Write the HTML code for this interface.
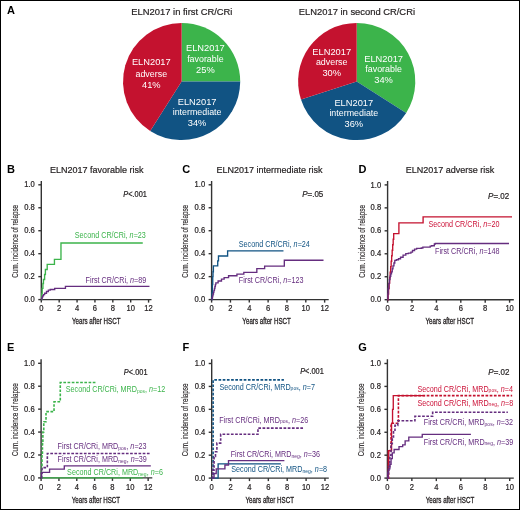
<!DOCTYPE html>
<html><head><meta charset="utf-8"><style>
html,body{margin:0;padding:0;background:#fff;}
svg{display:block;will-change:transform;}
text{font-family:"Liberation Sans",sans-serif;}
</style></head><body>
<svg width="520" height="510" viewBox="0 0 520 510">
<rect width="520" height="510" fill="#fff"/>
<path d="M181.6,81.5 L181.60,22.90 A58.6,58.6 0 0 1 240.20,81.50 Z" fill="#3cb44b"/>
<path d="M181.6,81.5 L240.20,81.50 A58.6,58.6 0 0 1 150.20,130.98 Z" fill="#115383"/>
<path d="M181.6,81.5 L150.20,130.98 A58.6,58.6 0 0 1 181.60,22.90 Z" fill="#c4122f"/>
<path d="M356.7,81.5 L356.70,22.90 A58.6,58.6 0 0 1 406.18,112.90 Z" fill="#3cb44b"/>
<path d="M356.7,81.5 L406.18,112.90 A58.6,58.6 0 0 1 300.97,99.61 Z" fill="#115383"/>
<path d="M356.7,81.5 L300.97,99.61 A58.6,58.6 0 0 1 356.70,22.90 Z" fill="#c4122f"/>
<text x="181.9" y="14.8" font-size="9.4" fill="#231f20" stroke="#231f20" stroke-width="0.2" text-anchor="middle">ELN2017 in first CR/CRi</text>
<text x="356.9" y="14.8" font-size="9.4" fill="#231f20" stroke="#231f20" stroke-width="0.2" text-anchor="middle">ELN2017 in second CR/CRi</text>
<text x="151.3" y="65.40" font-size="9.3" fill="#fff" text-anchor="middle">ELN2017</text>
<text x="151.3" y="76.60" font-size="8.9" fill="#fff" text-anchor="middle">adverse</text>
<text x="151.3" y="87.80" font-size="9.3" fill="#fff" text-anchor="middle">41%</text>
<text x="205.4" y="50.90" font-size="9.3" fill="#fff" text-anchor="middle">ELN2017</text>
<text x="205.4" y="61.80" font-size="8.9" fill="#fff" text-anchor="middle">favorable</text>
<text x="205.4" y="72.70" font-size="9.3" fill="#fff" text-anchor="middle">25%</text>
<text x="197.1" y="104.80" font-size="9.3" fill="#fff" text-anchor="middle">ELN2017</text>
<text x="197.1" y="115.40" font-size="8.9" fill="#fff" text-anchor="middle">intermediate</text>
<text x="197.1" y="126.00" font-size="9.3" fill="#fff" text-anchor="middle">34%</text>
<text x="331.7" y="54.80" font-size="9.3" fill="#fff" text-anchor="middle">ELN2017</text>
<text x="331.7" y="65.40" font-size="8.9" fill="#fff" text-anchor="middle">adverse</text>
<text x="331.7" y="76.00" font-size="9.3" fill="#fff" text-anchor="middle">30%</text>
<text x="383.6" y="61.50" font-size="9.3" fill="#fff" text-anchor="middle">ELN2017</text>
<text x="383.6" y="72.45" font-size="8.9" fill="#fff" text-anchor="middle">favorable</text>
<text x="383.6" y="83.40" font-size="9.3" fill="#fff" text-anchor="middle">34%</text>
<text x="353.8" y="105.50" font-size="9.3" fill="#fff" text-anchor="middle">ELN2017</text>
<text x="353.8" y="116.45" font-size="8.9" fill="#fff" text-anchor="middle">intermediate</text>
<text x="353.8" y="127.40" font-size="9.3" fill="#fff" text-anchor="middle">36%</text>
<text x="6.9" y="13.8" font-size="11" font-weight="bold" fill="#000">A</text>
<text x="7.1" y="172.5" font-size="11" font-weight="bold" fill="#000">B</text>
<text x="182.2" y="172.5" font-size="11" font-weight="bold" fill="#000">C</text>
<text x="358.5" y="172.5" font-size="11" font-weight="bold" fill="#000">D</text>
<text x="7.1" y="351" font-size="11" font-weight="bold" fill="#000">E</text>
<text x="182.5" y="350.7" font-size="11" font-weight="bold" fill="#000">F</text>
<text x="358.3" y="351" font-size="11" font-weight="bold" fill="#000">G</text>
<text x="50" y="173.00" font-size="9" fill="#231f20" stroke="#231f20" stroke-width="0.2">ELN2017 favorable risk</text>
<path d="M41.3,180.9 V299.6 H151.5" fill="none" stroke="#333" stroke-width="1.4"/>
<path d="M38.3,299.60 H41.3" stroke="#333" stroke-width="1.4"/>
<text transform="translate(34.80,302.20) scale(1,1.1)" font-size="7.6" fill="#231f20" stroke="#231f20" stroke-width="0.2" text-anchor="end">0.0</text>
<path d="M38.3,276.64 H41.3" stroke="#333" stroke-width="1.4"/>
<text transform="translate(34.80,279.24) scale(1,1.1)" font-size="7.6" fill="#231f20" stroke="#231f20" stroke-width="0.2" text-anchor="end">0.2</text>
<path d="M38.3,253.68 H41.3" stroke="#333" stroke-width="1.4"/>
<text transform="translate(34.80,256.28) scale(1,1.1)" font-size="7.6" fill="#231f20" stroke="#231f20" stroke-width="0.2" text-anchor="end">0.4</text>
<path d="M38.3,230.72 H41.3" stroke="#333" stroke-width="1.4"/>
<text transform="translate(34.80,233.32) scale(1,1.1)" font-size="7.6" fill="#231f20" stroke="#231f20" stroke-width="0.2" text-anchor="end">0.6</text>
<path d="M38.3,207.76 H41.3" stroke="#333" stroke-width="1.4"/>
<text transform="translate(34.80,210.36) scale(1,1.1)" font-size="7.6" fill="#231f20" stroke="#231f20" stroke-width="0.2" text-anchor="end">0.8</text>
<path d="M38.3,184.80 H41.3" stroke="#333" stroke-width="1.4"/>
<text transform="translate(34.80,187.40) scale(1,1.1)" font-size="7.6" fill="#231f20" stroke="#231f20" stroke-width="0.2" text-anchor="end">1.0</text>
<path d="M41.30,299.6 V302.6" stroke="#333" stroke-width="1.4"/>
<text transform="translate(41.30,311.30) scale(1,1.1)" font-size="7.6" fill="#231f20" stroke="#231f20" stroke-width="0.2" text-anchor="middle">0</text>
<path d="M59.18,299.6 V302.6" stroke="#333" stroke-width="1.4"/>
<text transform="translate(59.18,311.30) scale(1,1.1)" font-size="7.6" fill="#231f20" stroke="#231f20" stroke-width="0.2" text-anchor="middle">2</text>
<path d="M77.06,299.6 V302.6" stroke="#333" stroke-width="1.4"/>
<text transform="translate(77.06,311.30) scale(1,1.1)" font-size="7.6" fill="#231f20" stroke="#231f20" stroke-width="0.2" text-anchor="middle">4</text>
<path d="M94.94,299.6 V302.6" stroke="#333" stroke-width="1.4"/>
<text transform="translate(94.94,311.30) scale(1,1.1)" font-size="7.6" fill="#231f20" stroke="#231f20" stroke-width="0.2" text-anchor="middle">6</text>
<path d="M112.82,299.6 V302.6" stroke="#333" stroke-width="1.4"/>
<text transform="translate(112.82,311.30) scale(1,1.1)" font-size="7.6" fill="#231f20" stroke="#231f20" stroke-width="0.2" text-anchor="middle">8</text>
<path d="M130.70,299.6 V302.6" stroke="#333" stroke-width="1.4"/>
<text transform="translate(130.70,311.30) scale(1,1.1)" font-size="7.6" fill="#231f20" stroke="#231f20" stroke-width="0.2" text-anchor="middle">10</text>
<path d="M148.58,299.6 V302.6" stroke="#333" stroke-width="1.4"/>
<text transform="translate(148.58,311.30) scale(1,1.1)" font-size="7.6" fill="#231f20" stroke="#231f20" stroke-width="0.2" text-anchor="middle">12</text>
<text transform="translate(96.20,323.80) scale(0.75,1)" font-size="8.3" fill="#231f20" stroke="#231f20" stroke-width="0.3" text-anchor="middle">Years after HSCT</text>
<text transform="translate(18.00,241.30) rotate(-90) scale(0.76,1)" font-size="8.3" fill="#231f20" stroke="#231f20" stroke-width="0.12" text-anchor="middle">Cum. incidence of relapse</text>
<path d="M41.30,299.60 H41.30 V299.60 H41.75 V293.86 H42.19 V288.35 H42.91 V283.53 H43.45 V279.51 H44.61 V274.46 H45.41 V269.52 H47.20 V264.36 H54.44 V259.42 H60.97 V243.00 H142.77 V243.00" fill="none" stroke="#3cb44b" stroke-width="1.35"/>
<path d="M41.30,299.60 H41.75 V298.45 H42.10 V297.07 H42.64 V295.81 H43.45 V294.55 H44.61 V293.29 H46.49 V291.45 H48.36 V290.19 H50.24 V289.50 H54.71 V288.35 H65.44 V286.40 H149.47 V286.40" fill="none" stroke="#652d7f" stroke-width="1.35"/>
<text transform="translate(74.8,238) scale(1,1.14)" font-size="7.2" fill="#3cb44b" text-anchor="start">Second CR/CRi, <tspan font-style="italic">n</tspan>=23</text>
<text transform="translate(85.6,283.3) scale(1,1.14)" font-size="7.2" fill="#652d7f" text-anchor="start">First CR/CRi, <tspan font-style="italic">n</tspan>=89</text>
<text transform="translate(146.9,196.9) scale(1,1.14)" font-size="7.4" fill="#231f20" stroke="#231f20" stroke-width="0.2" text-anchor="end"><tspan font-style="italic">P</tspan>&lt;.001</text>
<text x="216.5" y="173.00" font-size="9" fill="#231f20" stroke="#231f20" stroke-width="0.2">ELN2017 intermediate risk</text>
<path d="M211.6,180.9 V299.6 H328.7" fill="none" stroke="#333" stroke-width="1.4"/>
<path d="M208.6,299.60 H211.6" stroke="#333" stroke-width="1.4"/>
<text transform="translate(205.10,302.20) scale(1,1.1)" font-size="7.6" fill="#231f20" stroke="#231f20" stroke-width="0.2" text-anchor="end">0.0</text>
<path d="M208.6,276.64 H211.6" stroke="#333" stroke-width="1.4"/>
<text transform="translate(205.10,279.24) scale(1,1.1)" font-size="7.6" fill="#231f20" stroke="#231f20" stroke-width="0.2" text-anchor="end">0.2</text>
<path d="M208.6,253.68 H211.6" stroke="#333" stroke-width="1.4"/>
<text transform="translate(205.10,256.28) scale(1,1.1)" font-size="7.6" fill="#231f20" stroke="#231f20" stroke-width="0.2" text-anchor="end">0.4</text>
<path d="M208.6,230.72 H211.6" stroke="#333" stroke-width="1.4"/>
<text transform="translate(205.10,233.32) scale(1,1.1)" font-size="7.6" fill="#231f20" stroke="#231f20" stroke-width="0.2" text-anchor="end">0.6</text>
<path d="M208.6,207.76 H211.6" stroke="#333" stroke-width="1.4"/>
<text transform="translate(205.10,210.36) scale(1,1.1)" font-size="7.6" fill="#231f20" stroke="#231f20" stroke-width="0.2" text-anchor="end">0.8</text>
<path d="M208.6,184.80 H211.6" stroke="#333" stroke-width="1.4"/>
<text transform="translate(205.10,187.40) scale(1,1.1)" font-size="7.6" fill="#231f20" stroke="#231f20" stroke-width="0.2" text-anchor="end">1.0</text>
<path d="M211.60,299.6 V302.6" stroke="#333" stroke-width="1.4"/>
<text transform="translate(211.60,311.30) scale(1,1.1)" font-size="7.6" fill="#231f20" stroke="#231f20" stroke-width="0.2" text-anchor="middle">0</text>
<path d="M230.44,299.6 V302.6" stroke="#333" stroke-width="1.4"/>
<text transform="translate(230.44,311.30) scale(1,1.1)" font-size="7.6" fill="#231f20" stroke="#231f20" stroke-width="0.2" text-anchor="middle">2</text>
<path d="M249.28,299.6 V302.6" stroke="#333" stroke-width="1.4"/>
<text transform="translate(249.28,311.30) scale(1,1.1)" font-size="7.6" fill="#231f20" stroke="#231f20" stroke-width="0.2" text-anchor="middle">4</text>
<path d="M268.12,299.6 V302.6" stroke="#333" stroke-width="1.4"/>
<text transform="translate(268.12,311.30) scale(1,1.1)" font-size="7.6" fill="#231f20" stroke="#231f20" stroke-width="0.2" text-anchor="middle">6</text>
<path d="M286.96,299.6 V302.6" stroke="#333" stroke-width="1.4"/>
<text transform="translate(286.96,311.30) scale(1,1.1)" font-size="7.6" fill="#231f20" stroke="#231f20" stroke-width="0.2" text-anchor="middle">8</text>
<path d="M305.80,299.6 V302.6" stroke="#333" stroke-width="1.4"/>
<text transform="translate(305.80,311.30) scale(1,1.1)" font-size="7.6" fill="#231f20" stroke="#231f20" stroke-width="0.2" text-anchor="middle">10</text>
<path d="M324.64,299.6 V302.6" stroke="#333" stroke-width="1.4"/>
<text transform="translate(324.64,311.30) scale(1,1.1)" font-size="7.6" fill="#231f20" stroke="#231f20" stroke-width="0.2" text-anchor="middle">12</text>
<text transform="translate(266.60,323.80) scale(0.75,1)" font-size="8.3" fill="#231f20" stroke="#231f20" stroke-width="0.3" text-anchor="middle">Years after HSCT</text>
<text transform="translate(188.30,241.30) rotate(-90) scale(0.76,1)" font-size="8.3" fill="#231f20" stroke="#231f20" stroke-width="0.12" text-anchor="middle">Cum. incidence of relapse</text>
<path d="M211.60,299.60 H211.98 V292.71 H212.35 V284.68 H212.73 V276.64 H213.01 V271.70 H213.39 V265.85 H217.72 V260.91 H218.48 V255.98 H227.61 V250.81 H283.47 V250.81" fill="none" stroke="#115383" stroke-width="1.35"/>
<path d="M211.60,299.60 H212.07 V297.76 H212.54 V295.93 H213.01 V293.97 H213.48 V292.14 H213.95 V290.30 H214.43 V288.46 H214.90 V286.51 H215.37 V284.68 H215.84 V282.84 H218.10 V281.00 H221.49 V279.05 H224.13 V277.67 H228.56 V275.72 H236.94 V274.11 H243.82 V272.39 H256.82 V268.60 H264.63 V266.08 H284.32 V260.22 H323.51 V260.22" fill="none" stroke="#652d7f" stroke-width="1.35"/>
<text transform="translate(238.8,246.8) scale(1,1.14)" font-size="7.2" fill="#115383" text-anchor="start">Second CR/CRi, <tspan font-style="italic">n</tspan>=24</text>
<text transform="translate(238.8,283.4) scale(1,1.14)" font-size="7.2" fill="#652d7f" text-anchor="start">First CR/CRi, <tspan font-style="italic">n</tspan>=123</text>
<text transform="translate(323.3,196.9) scale(1,1.14)" font-size="8.0" fill="#231f20" stroke="#231f20" stroke-width="0.2" text-anchor="end"><tspan font-style="italic">P</tspan>=.05</text>
<text x="405.8" y="173.10" font-size="9" fill="#231f20" stroke="#231f20" stroke-width="0.2">ELN2017 adverse risk</text>
<path d="M387.6,180.9 V299.7 H513.8" fill="none" stroke="#333" stroke-width="1.4"/>
<path d="M384.6,299.70 H387.6" stroke="#333" stroke-width="1.4"/>
<text transform="translate(381.10,302.30) scale(1,1.1)" font-size="7.6" fill="#231f20" stroke="#231f20" stroke-width="0.2" text-anchor="end">0.0</text>
<path d="M384.6,276.74 H387.6" stroke="#333" stroke-width="1.4"/>
<text transform="translate(381.10,279.34) scale(1,1.1)" font-size="7.6" fill="#231f20" stroke="#231f20" stroke-width="0.2" text-anchor="end">0.2</text>
<path d="M384.6,253.78 H387.6" stroke="#333" stroke-width="1.4"/>
<text transform="translate(381.10,256.38) scale(1,1.1)" font-size="7.6" fill="#231f20" stroke="#231f20" stroke-width="0.2" text-anchor="end">0.4</text>
<path d="M384.6,230.82 H387.6" stroke="#333" stroke-width="1.4"/>
<text transform="translate(381.10,233.42) scale(1,1.1)" font-size="7.6" fill="#231f20" stroke="#231f20" stroke-width="0.2" text-anchor="end">0.6</text>
<path d="M384.6,207.86 H387.6" stroke="#333" stroke-width="1.4"/>
<text transform="translate(381.10,210.46) scale(1,1.1)" font-size="7.6" fill="#231f20" stroke="#231f20" stroke-width="0.2" text-anchor="end">0.8</text>
<path d="M384.6,184.90 H387.6" stroke="#333" stroke-width="1.4"/>
<text transform="translate(381.10,187.50) scale(1,1.1)" font-size="7.6" fill="#231f20" stroke="#231f20" stroke-width="0.2" text-anchor="end">1.0</text>
<path d="M387.60,299.7 V302.7" stroke="#333" stroke-width="1.4"/>
<text transform="translate(387.60,311.40) scale(1,1.1)" font-size="7.6" fill="#231f20" stroke="#231f20" stroke-width="0.2" text-anchor="middle">0</text>
<path d="M412.00,299.7 V302.7" stroke="#333" stroke-width="1.4"/>
<text transform="translate(412.00,311.40) scale(1,1.1)" font-size="7.6" fill="#231f20" stroke="#231f20" stroke-width="0.2" text-anchor="middle">2</text>
<path d="M436.40,299.7 V302.7" stroke="#333" stroke-width="1.4"/>
<text transform="translate(436.40,311.40) scale(1,1.1)" font-size="7.6" fill="#231f20" stroke="#231f20" stroke-width="0.2" text-anchor="middle">4</text>
<path d="M460.80,299.7 V302.7" stroke="#333" stroke-width="1.4"/>
<text transform="translate(460.80,311.40) scale(1,1.1)" font-size="7.6" fill="#231f20" stroke="#231f20" stroke-width="0.2" text-anchor="middle">6</text>
<path d="M485.20,299.7 V302.7" stroke="#333" stroke-width="1.4"/>
<text transform="translate(485.20,311.40) scale(1,1.1)" font-size="7.6" fill="#231f20" stroke="#231f20" stroke-width="0.2" text-anchor="middle">8</text>
<path d="M509.60,299.7 V302.7" stroke="#333" stroke-width="1.4"/>
<text transform="translate(509.60,311.40) scale(1,1.1)" font-size="7.6" fill="#231f20" stroke="#231f20" stroke-width="0.2" text-anchor="middle">10</text>
<text transform="translate(449.75,323.90) scale(0.75,1)" font-size="8.3" fill="#231f20" stroke="#231f20" stroke-width="0.3" text-anchor="middle">Years after HSCT</text>
<text transform="translate(364.90,241.40) rotate(-90) scale(0.76,1)" font-size="8.3" fill="#231f20" stroke="#231f20" stroke-width="0.12" text-anchor="middle">Cum. incidence of relapse</text>
<path d="M387.60,299.70 H388.11 V294.19 H388.61 V288.68 H389.12 V283.17 H389.64 V277.66 H390.14 V272.15 H390.65 V266.75 H391.16 V261.24 H391.66 V255.73 H392.18 V250.22 H392.69 V244.71 H393.19 V239.20 H393.70 V233.69 H398.90 V222.90 H423.10 V216.81 H512.04 V216.81" fill="none" stroke="#c4122f" stroke-width="1.35"/>
<path d="M387.60,299.70 H387.91 V293.96 H388.21 V288.45 H388.82 V283.63 H389.43 V279.61 H390.04 V276.28 H390.77 V273.87 H391.50 V271.80 H392.24 V268.70 H392.97 V265.83 H393.94 V262.96 H394.80 V260.32 H396.38 V259.75 H398.46 V258.72 H400.53 V257.22 H403.09 V255.16 H405.78 V253.55 H408.34 V253.09 H410.90 V252.06 H412.49 V250.45 H414.56 V249.19 H416.64 V248.38 H421.27 V248.04 H422.86 V247.12 H429.08 V247.12 H430.18 V246.09 H431.64 V245.74 H434.33 V244.02 H435.30 V243.45 H508.99 V243.45" fill="none" stroke="#652d7f" stroke-width="1.35"/>
<text transform="translate(428.5,226.5) scale(1,1.14)" font-size="7.2" fill="#cc1238" text-anchor="start">Second CR/CRi, <tspan font-style="italic">n</tspan>=20</text>
<text transform="translate(435,253.8) scale(1,1.14)" font-size="7.2" fill="#652d7f" text-anchor="start">First CR/CRi, <tspan font-style="italic">n</tspan>=148</text>
<text transform="translate(509.2,198.8) scale(1,1.14)" font-size="8.0" fill="#231f20" stroke="#231f20" stroke-width="0.2" text-anchor="end"><tspan font-style="italic">P</tspan>=.02</text>
<text x="0" y="351.30" font-size="9" fill="#231f20" stroke="#231f20" stroke-width="0.2"></text>
<path d="M41.1,359.3 V477.9 H152.3" fill="none" stroke="#333" stroke-width="1.4"/>
<path d="M38.1,477.90 H41.1" stroke="#333" stroke-width="1.4"/>
<text transform="translate(34.60,480.50) scale(1,1.1)" font-size="7.6" fill="#231f20" stroke="#231f20" stroke-width="0.2" text-anchor="end">0.0</text>
<path d="M38.1,454.98 H41.1" stroke="#333" stroke-width="1.4"/>
<text transform="translate(34.60,457.58) scale(1,1.1)" font-size="7.6" fill="#231f20" stroke="#231f20" stroke-width="0.2" text-anchor="end">0.2</text>
<path d="M38.1,432.06 H41.1" stroke="#333" stroke-width="1.4"/>
<text transform="translate(34.60,434.66) scale(1,1.1)" font-size="7.6" fill="#231f20" stroke="#231f20" stroke-width="0.2" text-anchor="end">0.4</text>
<path d="M38.1,409.14 H41.1" stroke="#333" stroke-width="1.4"/>
<text transform="translate(34.60,411.74) scale(1,1.1)" font-size="7.6" fill="#231f20" stroke="#231f20" stroke-width="0.2" text-anchor="end">0.6</text>
<path d="M38.1,386.22 H41.1" stroke="#333" stroke-width="1.4"/>
<text transform="translate(34.60,388.82) scale(1,1.1)" font-size="7.6" fill="#231f20" stroke="#231f20" stroke-width="0.2" text-anchor="end">0.8</text>
<path d="M38.1,363.30 H41.1" stroke="#333" stroke-width="1.4"/>
<text transform="translate(34.60,365.90) scale(1,1.1)" font-size="7.6" fill="#231f20" stroke="#231f20" stroke-width="0.2" text-anchor="end">1.0</text>
<path d="M41.10,477.9 V480.9" stroke="#333" stroke-width="1.4"/>
<text transform="translate(41.10,489.60) scale(1,1.1)" font-size="7.6" fill="#231f20" stroke="#231f20" stroke-width="0.2" text-anchor="middle">0</text>
<path d="M58.94,477.9 V480.9" stroke="#333" stroke-width="1.4"/>
<text transform="translate(58.94,489.60) scale(1,1.1)" font-size="7.6" fill="#231f20" stroke="#231f20" stroke-width="0.2" text-anchor="middle">2</text>
<path d="M76.78,477.9 V480.9" stroke="#333" stroke-width="1.4"/>
<text transform="translate(76.78,489.60) scale(1,1.1)" font-size="7.6" fill="#231f20" stroke="#231f20" stroke-width="0.2" text-anchor="middle">4</text>
<path d="M94.62,477.9 V480.9" stroke="#333" stroke-width="1.4"/>
<text transform="translate(94.62,489.60) scale(1,1.1)" font-size="7.6" fill="#231f20" stroke="#231f20" stroke-width="0.2" text-anchor="middle">6</text>
<path d="M112.46,477.9 V480.9" stroke="#333" stroke-width="1.4"/>
<text transform="translate(112.46,489.60) scale(1,1.1)" font-size="7.6" fill="#231f20" stroke="#231f20" stroke-width="0.2" text-anchor="middle">8</text>
<path d="M130.30,477.9 V480.9" stroke="#333" stroke-width="1.4"/>
<text transform="translate(130.30,489.60) scale(1,1.1)" font-size="7.6" fill="#231f20" stroke="#231f20" stroke-width="0.2" text-anchor="middle">10</text>
<path d="M148.14,477.9 V480.9" stroke="#333" stroke-width="1.4"/>
<text transform="translate(148.14,489.60) scale(1,1.1)" font-size="7.6" fill="#231f20" stroke="#231f20" stroke-width="0.2" text-anchor="middle">12</text>
<text transform="translate(95.90,502.80) scale(0.75,1)" font-size="8.3" fill="#231f20" stroke="#231f20" stroke-width="0.3" text-anchor="middle">Years after HSCT</text>
<text transform="translate(17.80,419.70) rotate(-90) scale(0.76,1)" font-size="8.3" fill="#231f20" stroke="#231f20" stroke-width="0.12" text-anchor="middle">Cum. incidence of relapse</text>
<path d="M41.10,477.90 H41.55 V466.44 H41.99 V454.98 H42.44 V443.52 H42.88 V432.06 H43.78 V421.75 H46.01 V411.66 H54.03 V401.81 H60.28 V382.55 H96.85 V382.55" fill="none" stroke="#3cb44b" stroke-width="1.6" stroke-dasharray="2.7 1.5"/>
<path d="M41.10,477.90 H142.79 V477.90" fill="none" stroke="#3cb44b" stroke-width="1.4"/>
<path d="M41.10,477.90 H41.55 V473.32 H41.99 V467.59 H47.34 V453.49 H150.82 V453.49" fill="none" stroke="#652d7f" stroke-width="1.6" stroke-dasharray="2.7 1.5"/>
<path d="M41.10,477.90 H41.55 V472.40 H49.57 V469.19 H64.29 V465.87 H150.82 V465.87" fill="none" stroke="#652d7f" stroke-width="1.35"/>
<text transform="translate(65.8,392) scale(1,1.14)" font-size="7.2" fill="#3cb44b" text-anchor="start">Second CR/CRi, MRD<tspan font-size="5" dy="0.6">pos</tspan><tspan dy="-0.6">, <tspan font-style="italic">n</tspan>=12</tspan></text>
<text transform="translate(57.5,449.1) scale(1,1.14)" font-size="7.2" fill="#652d7f" text-anchor="start">First CR/CRi, MRD<tspan font-size="5" dy="0.6">pos</tspan><tspan dy="-0.6">, <tspan font-style="italic">n</tspan>=23</tspan></text>
<text transform="translate(57.5,462.1) scale(1,1.14)" font-size="7.2" fill="#652d7f" text-anchor="start">First CR/CRi, MRD<tspan font-size="5" dy="0.6">neg</tspan><tspan dy="-0.6">, <tspan font-style="italic">n</tspan>=39</tspan></text>
<text transform="translate(67.1,474.9) scale(1,1.14)" font-size="7.2" fill="#3cb44b" text-anchor="start">Second CR/CRi, MRD<tspan font-size="5" dy="0.6">neg</tspan><tspan dy="-0.6">, <tspan font-style="italic">n</tspan>=6</tspan></text>
<text transform="translate(147.5,375.2) scale(1,1.14)" font-size="7.4" fill="#231f20" stroke="#231f20" stroke-width="0.2" text-anchor="end"><tspan font-style="italic">P</tspan>&lt;.001</text>
<text x="0" y="351.50" font-size="9" fill="#231f20" stroke="#231f20" stroke-width="0.2"></text>
<path d="M211.7,359.3 V478.1 H328.8" fill="none" stroke="#333" stroke-width="1.4"/>
<path d="M208.7,478.10 H211.7" stroke="#333" stroke-width="1.4"/>
<text transform="translate(205.20,480.70) scale(1,1.1)" font-size="7.6" fill="#231f20" stroke="#231f20" stroke-width="0.2" text-anchor="end">0.0</text>
<path d="M208.7,455.18 H211.7" stroke="#333" stroke-width="1.4"/>
<text transform="translate(205.20,457.78) scale(1,1.1)" font-size="7.6" fill="#231f20" stroke="#231f20" stroke-width="0.2" text-anchor="end">0.2</text>
<path d="M208.7,432.26 H211.7" stroke="#333" stroke-width="1.4"/>
<text transform="translate(205.20,434.86) scale(1,1.1)" font-size="7.6" fill="#231f20" stroke="#231f20" stroke-width="0.2" text-anchor="end">0.4</text>
<path d="M208.7,409.34 H211.7" stroke="#333" stroke-width="1.4"/>
<text transform="translate(205.20,411.94) scale(1,1.1)" font-size="7.6" fill="#231f20" stroke="#231f20" stroke-width="0.2" text-anchor="end">0.6</text>
<path d="M208.7,386.42 H211.7" stroke="#333" stroke-width="1.4"/>
<text transform="translate(205.20,389.02) scale(1,1.1)" font-size="7.6" fill="#231f20" stroke="#231f20" stroke-width="0.2" text-anchor="end">0.8</text>
<path d="M208.7,363.50 H211.7" stroke="#333" stroke-width="1.4"/>
<text transform="translate(205.20,366.10) scale(1,1.1)" font-size="7.6" fill="#231f20" stroke="#231f20" stroke-width="0.2" text-anchor="end">1.0</text>
<path d="M211.70,478.1 V481.1" stroke="#333" stroke-width="1.4"/>
<text transform="translate(211.70,489.80) scale(1,1.1)" font-size="7.6" fill="#231f20" stroke="#231f20" stroke-width="0.2" text-anchor="middle">0</text>
<path d="M230.58,478.1 V481.1" stroke="#333" stroke-width="1.4"/>
<text transform="translate(230.58,489.80) scale(1,1.1)" font-size="7.6" fill="#231f20" stroke="#231f20" stroke-width="0.2" text-anchor="middle">2</text>
<path d="M249.46,478.1 V481.1" stroke="#333" stroke-width="1.4"/>
<text transform="translate(249.46,489.80) scale(1,1.1)" font-size="7.6" fill="#231f20" stroke="#231f20" stroke-width="0.2" text-anchor="middle">4</text>
<path d="M268.34,478.1 V481.1" stroke="#333" stroke-width="1.4"/>
<text transform="translate(268.34,489.80) scale(1,1.1)" font-size="7.6" fill="#231f20" stroke="#231f20" stroke-width="0.2" text-anchor="middle">6</text>
<path d="M287.22,478.1 V481.1" stroke="#333" stroke-width="1.4"/>
<text transform="translate(287.22,489.80) scale(1,1.1)" font-size="7.6" fill="#231f20" stroke="#231f20" stroke-width="0.2" text-anchor="middle">8</text>
<path d="M306.10,478.1 V481.1" stroke="#333" stroke-width="1.4"/>
<text transform="translate(306.10,489.80) scale(1,1.1)" font-size="7.6" fill="#231f20" stroke="#231f20" stroke-width="0.2" text-anchor="middle">10</text>
<path d="M324.98,478.1 V481.1" stroke="#333" stroke-width="1.4"/>
<text transform="translate(324.98,489.80) scale(1,1.1)" font-size="7.6" fill="#231f20" stroke="#231f20" stroke-width="0.2" text-anchor="middle">12</text>
<text transform="translate(269.75,503.00) scale(0.75,1)" font-size="8.3" fill="#231f20" stroke="#231f20" stroke-width="0.3" text-anchor="middle">Years after HSCT</text>
<text transform="translate(188.40,419.90) rotate(-90) scale(0.76,1)" font-size="8.3" fill="#231f20" stroke="#231f20" stroke-width="0.12" text-anchor="middle">Cum. incidence of relapse</text>
<path d="M211.70,478.10 H213.12 V379.89 H283.92 V379.89" fill="none" stroke="#115383" stroke-width="1.6" stroke-dasharray="2.7 1.5"/>
<path d="M211.70,478.10 H212.64 V470.08 H214.06 V456.33 H215.48 V451.74 H216.89 V443.15 H220.67 V434.32 H257.96 V428.13 H303.93 V428.13" fill="none" stroke="#652d7f" stroke-width="1.6" stroke-dasharray="2.7 1.5"/>
<path d="M211.70,478.10 H218.12 V463.89 H280.90 V463.89" fill="none" stroke="#115383" stroke-width="1.35"/>
<path d="M211.70,478.10 H214.06 V473.52 H216.23 V468.93 H224.92 V465.04 H228.50 V460.68 H284.39 V460.68" fill="none" stroke="#652d7f" stroke-width="1.35"/>
<text transform="translate(219.4,389.5) scale(1,1.14)" font-size="7.2" fill="#115383" text-anchor="start">Second CR/CRi, MRD<tspan font-size="5" dy="0.6">pos</tspan><tspan dy="-0.6">, <tspan font-style="italic">n</tspan>=7</tspan></text>
<text transform="translate(219.2,422.7) scale(1,1.14)" font-size="7.2" fill="#652d7f" text-anchor="start">First CR/CRi, MRD<tspan font-size="5" dy="0.6">pos</tspan><tspan dy="-0.6">, <tspan font-style="italic">n</tspan>=26</tspan></text>
<text transform="translate(230.7,457.3) scale(1,1.14)" font-size="7.2" fill="#652d7f" text-anchor="start">First CR/CRi, MRD<tspan font-size="5" dy="0.6">neg</tspan><tspan dy="-0.6">, <tspan font-style="italic">n</tspan>=36</tspan></text>
<text transform="translate(231.3,472) scale(1,1.14)" font-size="7.2" fill="#115383" text-anchor="start">Second CR/CRi, MRD<tspan font-size="5" dy="0.6">neg</tspan><tspan dy="-0.6">, <tspan font-style="italic">n</tspan>=8</tspan></text>
<text transform="translate(323.8,374.3) scale(1,1.14)" font-size="7.4" fill="#231f20" stroke="#231f20" stroke-width="0.2" text-anchor="end"><tspan font-style="italic">P</tspan>&lt;.001</text>
<text x="0" y="351.50" font-size="9" fill="#231f20" stroke="#231f20" stroke-width="0.2"></text>
<path d="M387.4,359.3 V478.1 H513.8" fill="none" stroke="#333" stroke-width="1.4"/>
<path d="M384.4,478.10 H387.4" stroke="#333" stroke-width="1.4"/>
<text transform="translate(380.90,480.70) scale(1,1.1)" font-size="7.6" fill="#231f20" stroke="#231f20" stroke-width="0.2" text-anchor="end">0.0</text>
<path d="M384.4,455.18 H387.4" stroke="#333" stroke-width="1.4"/>
<text transform="translate(380.90,457.78) scale(1,1.1)" font-size="7.6" fill="#231f20" stroke="#231f20" stroke-width="0.2" text-anchor="end">0.2</text>
<path d="M384.4,432.26 H387.4" stroke="#333" stroke-width="1.4"/>
<text transform="translate(380.90,434.86) scale(1,1.1)" font-size="7.6" fill="#231f20" stroke="#231f20" stroke-width="0.2" text-anchor="end">0.4</text>
<path d="M384.4,409.34 H387.4" stroke="#333" stroke-width="1.4"/>
<text transform="translate(380.90,411.94) scale(1,1.1)" font-size="7.6" fill="#231f20" stroke="#231f20" stroke-width="0.2" text-anchor="end">0.6</text>
<path d="M384.4,386.42 H387.4" stroke="#333" stroke-width="1.4"/>
<text transform="translate(380.90,389.02) scale(1,1.1)" font-size="7.6" fill="#231f20" stroke="#231f20" stroke-width="0.2" text-anchor="end">0.8</text>
<path d="M384.4,363.50 H387.4" stroke="#333" stroke-width="1.4"/>
<text transform="translate(380.90,366.10) scale(1,1.1)" font-size="7.6" fill="#231f20" stroke="#231f20" stroke-width="0.2" text-anchor="end">1.0</text>
<path d="M387.40,478.1 V481.1" stroke="#333" stroke-width="1.4"/>
<text transform="translate(387.40,489.80) scale(1,1.1)" font-size="7.6" fill="#231f20" stroke="#231f20" stroke-width="0.2" text-anchor="middle">0</text>
<path d="M411.86,478.1 V481.1" stroke="#333" stroke-width="1.4"/>
<text transform="translate(411.86,489.80) scale(1,1.1)" font-size="7.6" fill="#231f20" stroke="#231f20" stroke-width="0.2" text-anchor="middle">2</text>
<path d="M436.32,478.1 V481.1" stroke="#333" stroke-width="1.4"/>
<text transform="translate(436.32,489.80) scale(1,1.1)" font-size="7.6" fill="#231f20" stroke="#231f20" stroke-width="0.2" text-anchor="middle">4</text>
<path d="M460.78,478.1 V481.1" stroke="#333" stroke-width="1.4"/>
<text transform="translate(460.78,489.80) scale(1,1.1)" font-size="7.6" fill="#231f20" stroke="#231f20" stroke-width="0.2" text-anchor="middle">6</text>
<path d="M485.24,478.1 V481.1" stroke="#333" stroke-width="1.4"/>
<text transform="translate(485.24,489.80) scale(1,1.1)" font-size="7.6" fill="#231f20" stroke="#231f20" stroke-width="0.2" text-anchor="middle">8</text>
<path d="M509.70,478.1 V481.1" stroke="#333" stroke-width="1.4"/>
<text transform="translate(509.70,489.80) scale(1,1.1)" font-size="7.6" fill="#231f20" stroke="#231f20" stroke-width="0.2" text-anchor="middle">10</text>
<text transform="translate(450.00,503.00) scale(0.75,1)" font-size="8.3" fill="#231f20" stroke="#231f20" stroke-width="0.3" text-anchor="middle">Years after HSCT</text>
<text transform="translate(364.10,419.90) rotate(-90) scale(0.76,1)" font-size="8.3" fill="#231f20" stroke="#231f20" stroke-width="0.12" text-anchor="middle">Cum. incidence of relapse</text>
<path d="M387.40,478.10 H388.62 V450.60 H391.07 V423.32 H398.41 V395.59 H512.15 V395.59" fill="none" stroke="#c4122f" stroke-width="1.6" stroke-dasharray="2.7 1.5"/>
<path d="M387.40,478.10 H388.38 V450.60 H391.56 V423.32 H392.54 V409.34 H393.27 V395.59 H424.95 V395.59" fill="none" stroke="#c4122f" stroke-width="1.35"/>
<path d="M387.40,478.10 H388.01 V472.37 H388.62 V466.64 H389.85 V455.18 H391.07 V443.72 H392.29 V436.84 H393.51 V431.11 H394.98 V425.38 H397.80 V420.80 H414.92 V416.22 H432.65 V412.32 H507.87 V412.32" fill="none" stroke="#652d7f" stroke-width="1.6" stroke-dasharray="2.7 1.5"/>
<path d="M387.40,478.10 H388.01 V473.52 H388.62 V468.93 H389.85 V464.35 H391.07 V458.62 H392.29 V452.89 H394.13 V449.45 H399.02 V446.59 H402.69 V444.87 H405.13 V440.86 H408.80 V437.19 H422.26 V434.32 H470.93 V434.32" fill="none" stroke="#652d7f" stroke-width="1.35"/>
<text transform="translate(417.4,391.6) scale(1,1.14)" font-size="7.2" fill="#cc1238" text-anchor="start">Second CR/CRi, MRD<tspan font-size="5" dy="0.6">pos</tspan><tspan dy="-0.6">, <tspan font-style="italic">n</tspan>=4</tspan></text>
<text transform="translate(417.4,405.8) scale(1,1.14)" font-size="7.2" fill="#cc1238" text-anchor="start">Second CR/CRi, MRD<tspan font-size="5" dy="0.6">neg</tspan><tspan dy="-0.6">, <tspan font-style="italic">n</tspan>=8</tspan></text>
<text transform="translate(423.8,425) scale(1,1.14)" font-size="7.2" fill="#652d7f" text-anchor="start">First CR/CRi, MRD<tspan font-size="5" dy="0.6">pos</tspan><tspan dy="-0.6">, <tspan font-style="italic">n</tspan>=32</tspan></text>
<text transform="translate(423.8,444.5) scale(1,1.14)" font-size="7.2" fill="#652d7f" text-anchor="start">First CR/CRi, MRD<tspan font-size="5" dy="0.6">neg</tspan><tspan dy="-0.6">, <tspan font-style="italic">n</tspan>=39</tspan></text>
<text transform="translate(509.4,374.9) scale(1,1.14)" font-size="8.0" fill="#231f20" stroke="#231f20" stroke-width="0.2" text-anchor="end"><tspan font-style="italic">P</tspan>=.02</text>
<rect x="0.5" y="0.5" width="519" height="509" fill="none" stroke="#000" stroke-width="1"/>
</svg></body></html>
